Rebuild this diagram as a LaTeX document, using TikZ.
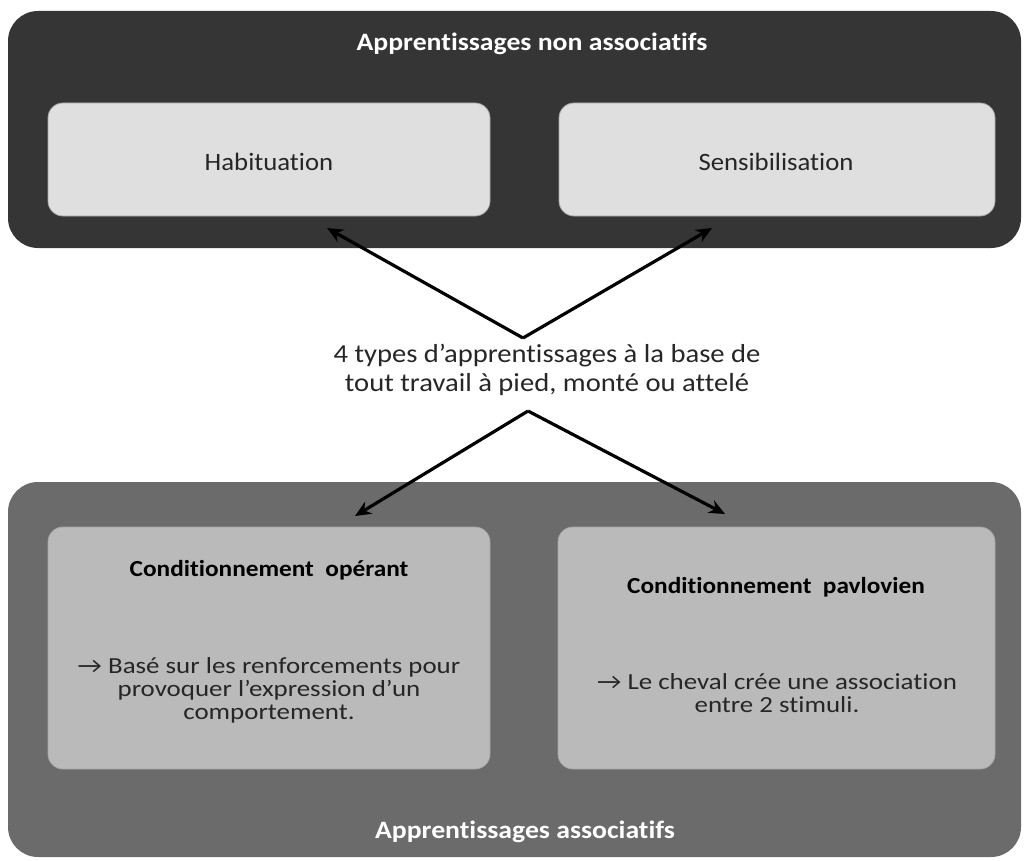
\documentclass[tikz,border=0pt]{standalone}
\usepackage{fontspec}
\setmainfont{Carlito}[Ligatures=NoCommon]
\newfontfamily\titlefont[FakeStretch=1.11,Ligatures=NoCommon]{Carlito}
\newfontfamily\habfont[FakeStretch=1.07,Ligatures=NoCommon]{Carlito}
\newfontfamily\condfont[FakeStretch=1.1,Ligatures=NoCommon]{Carlito}
\newfontfamily\bodyfont[FakeStretch=1.17,Ligatures=NoCommon]{Carlito}
\newfontfamily\centerfont[FakeStretch=1.1,Ligatures=NoCommon]{Carlito}
\usetikzlibrary{arrows.meta}
\definecolor{darkbg}{HTML}{353535}
\definecolor{lightbox}{HTML}{DFDFDF}
\definecolor{midbg}{HTML}{6B6B6B}
\definecolor{midbox}{HTML}{BABABA}
\tikzset{
  outerbox/.style={rounded corners=30pt, inner sep=0pt},
  innerbox/.style={rounded corners=15pt, inner sep=0pt, draw=black!35, line width=0.8pt},
  titletext/.style={text=white, font=\titlefont\bfseries\fontsize{25}{28}\selectfont, inner sep=0pt},
  boxtext/.style={text=black!85, font=\habfont\fontsize{25}{28}\selectfont, inner sep=0pt},
  boxtitle/.style={text=black, font=\condfont\bfseries\fontsize{23}{26}\selectfont, inner sep=0pt},
  bodytext/.style={text=black!85, font=\bodyfont\fontsize{23}{23}\selectfont, align=center, inner sep=0pt},
  centertext/.style={text=black!85, font=\centerfont\fontsize{26}{29}\selectfont, align=center, inner sep=0pt},
  link/.style={line width=3.2pt, black, -{Stealth[length=16pt,width=14pt]}}
}
\begin{document}
\begin{tikzpicture}[x=1pt,y=-1pt]
\useasboundingbox (0,0) rectangle (1027,861);
% top group
\node[outerbox, fill=darkbg, minimum width=1013pt, minimum height=237pt] (top) at (514.5,129.5) {};
\node[titletext] (toptitle) at (532,44) {Apprentissages non associatifs};
\node[innerbox, fill=lightbox, minimum width=442pt, minimum height=113pt] (hab) at (269,159.5) {};
\node[boxtext] (habt) at (269,162) {Habituation};
\node[innerbox, fill=lightbox, minimum width=436pt, minimum height=113pt] (sens) at (777,159.5) {};
\node[boxtext] (senst) at (776,162) {Sensibilisation};
% bottom group
\node[outerbox, fill=midbg, minimum width=1013pt, minimum height=375pt] (bot) at (514.5,669.5) {};
\node[titletext] (bottitle) at (525,832) {Apprentissages associatifs};
\node[innerbox, fill=midbox, minimum width=442pt, minimum height=242pt] (oper) at (269,648) {};
\node[boxtitle] (opert) at (269,570) {Conditionnement\ \ opérant};
\node[bodytext] (operb) at (269,690) {→ Basé sur les renforcements pour\\provoquer l’expression d’un\\comportement.};
\node[innerbox, fill=midbox, minimum width=437pt, minimum height=242pt] (pav) at (776.5,648) {};
\node[boxtitle] (pavt) at (776,587) {Conditionnement\ \ pavlovien};
\node[bodytext] (pavb) at (777,693) {→ Le cheval crée une association\\entre 2 stimuli.};
% centre
\node[centertext] (mid) at (547,370) {4 types d’apprentissages à la base de\\tout travail à pied, monté ou attelé};
\coordinate (apexup) at (523,338);
\coordinate (apexdown) at (528,411);
\coordinate (tiphab) at (327,228);
\coordinate (tipsens) at (712,228);
\coordinate (tipoper) at (355,516);
\coordinate (tippav) at (725,514);
\draw[link] (apexup) -- (tiphab);
\draw[link] (apexup) -- (tipsens);
\draw[link] (apexdown) -- (tipoper);
\draw[link] (apexdown) -- (tippav);
\end{tikzpicture}
\end{document}
